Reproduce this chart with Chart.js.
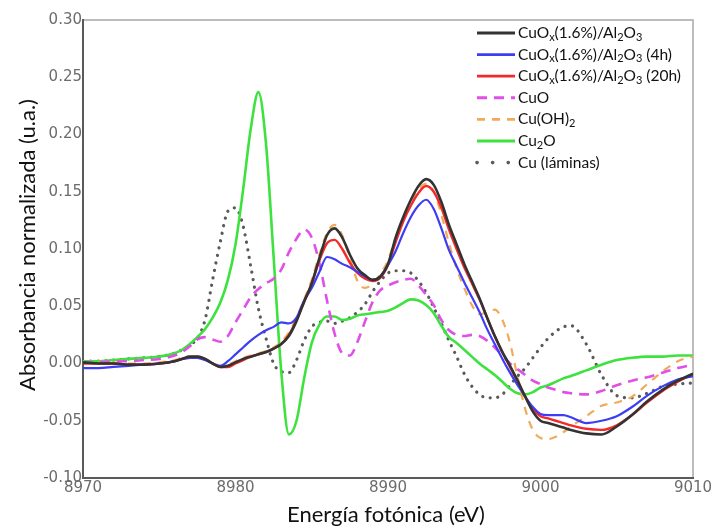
<!DOCTYPE html>
<html>
<head>
<meta charset="utf-8">
<script src="https://cdn.jsdelivr.net/npm/chart.js@4.4.1/dist/chart.umd.min.js"></script>
<style>
  html, body { margin: 0; padding: 0; background: #fff; }
  #wrap { width: 717px; height: 530px; }
</style>
</head>
<body>
<div id="wrap"><canvas id="xanes" width="717" height="530"></canvas></div>
<script>
// photon energy (eV), finer step across the edge region
const energy = [
  8970, 8971, 8972, 8973, 8974, 8975,
  8976, 8976.5, 8977, 8977.5, 8978, 8978.5, 8979, 8979.5, 8980, 8980.5,
  8981, 8981.5, 8982, 8982.5, 8983, 8983.5, 8984, 8984.5, 8985, 8985.5,
  8986, 8986.5, 8987, 8987.5, 8988, 8988.5, 8989, 8989.5, 8990, 8990.5,
  8991, 8991.5, 8992, 8992.5, 8993, 8993.5, 8994, 8994.5, 8995, 8995.5,
  8996, 8996.5, 8997, 8997.5, 8998, 8998.5, 8999, 8999.5, 9000, 9000.5,
  9001, 9001.5, 9002, 9003, 9004, 9005, 9006, 9007, 9008, 9009, 9010
];

const cuoxFresh = [
  0.001, 0.000, 0.000, -0.001, -0.001, 0.000,
  0.002, 0.004, 0.006, 0.006, 0.004, 0.000, -0.003, -0.002, 0.001, 0.004,
  0.006, 0.008, 0.010, 0.013, 0.017, 0.024, 0.037, 0.054, 0.070, 0.092,
  0.112, 0.118, 0.110, 0.095, 0.083, 0.077, 0.073, 0.076, 0.087, 0.110,
  0.128, 0.143, 0.155, 0.161, 0.156, 0.141, 0.121, 0.104, 0.087, 0.072,
  0.057, 0.040, 0.024, 0.010, -0.002, -0.015, -0.029, -0.042, -0.050, -0.052,
  -0.054, -0.056, -0.058, -0.061, -0.062, -0.055, -0.045, -0.033, -0.023, -0.015, -0.009
];

const cuox4h = [
  -0.004, -0.004, -0.003, -0.002, -0.001, 0.000,
  0.002, 0.004, 0.005, 0.005, 0.003, 0.000, -0.002, 0.002, 0.008, 0.014,
  0.020, 0.025, 0.029, 0.032, 0.036, 0.035, 0.040, 0.055, 0.066, 0.080,
  0.093, 0.091, 0.087, 0.084, 0.080, 0.076, 0.073, 0.076, 0.086, 0.098,
  0.114, 0.128, 0.138, 0.143, 0.135, 0.118, 0.099, 0.085, 0.071, 0.058,
  0.045, 0.030, 0.017, 0.004, -0.008, -0.019, -0.029, -0.038, -0.044, -0.045,
  -0.045, -0.045, -0.047, -0.052, -0.050, -0.046, -0.038, -0.028, -0.020, -0.014, -0.011
];

const cuox20h = [
  0.000, 0.000, 0.000, -0.001, -0.001, 0.000,
  0.002, 0.004, 0.005, 0.006, 0.004, 0.000, -0.003, -0.003, 0.000, 0.003,
  0.006, 0.008, 0.010, 0.013, 0.017, 0.025, 0.038, 0.054, 0.070, 0.090,
  0.105, 0.108, 0.100, 0.088, 0.079, 0.074, 0.072, 0.075, 0.086, 0.106,
  0.124, 0.138, 0.149, 0.155, 0.150, 0.136, 0.117, 0.100, 0.084, 0.070,
  0.056, 0.040, 0.024, 0.010, -0.003, -0.016, -0.029, -0.040, -0.046, -0.048,
  -0.050, -0.052, -0.054, -0.057, -0.058, -0.054, -0.045, -0.034, -0.024, -0.016, -0.009
];

const cuoRef = [
  0.001, 0.001, 0.002, 0.002, 0.003, 0.004,
  0.007, 0.010, 0.015, 0.021, 0.023, 0.021, 0.019, 0.024, 0.036, 0.047,
  0.058, 0.065, 0.070, 0.074, 0.082, 0.097, 0.109, 0.117, 0.110, 0.088,
  0.055, 0.026, 0.009, 0.007, 0.019, 0.037, 0.054, 0.064, 0.068, 0.071,
  0.073, 0.074, 0.068, 0.060, 0.051, 0.038, 0.029, 0.025, 0.024, 0.025,
  0.024, 0.020, 0.014, 0.007, 0.000, -0.005, -0.010, -0.015, -0.018, -0.021,
  -0.023, -0.025, -0.026, -0.027, -0.024, -0.019, -0.015, -0.012, -0.008, -0.004, -0.001
];

const cuOH2Ref = [
  0.001, 0.001, 0.001, 0.000, 0.000, 0.001,
  0.003, 0.005, 0.006, 0.006, 0.004, 0.001, -0.002, -0.001, 0.002, 0.005,
  0.007, 0.009, 0.011, 0.014, 0.019, 0.027, 0.040, 0.056, 0.073, 0.095,
  0.114, 0.121, 0.112, 0.092, 0.072, 0.066, 0.070, 0.078, 0.090, 0.110,
  0.127, 0.141, 0.152, 0.157, 0.150, 0.130, 0.105, 0.083, 0.066, 0.051,
  0.043, 0.045, 0.047, 0.038, 0.018, -0.012, -0.040, -0.058, -0.065, -0.066,
  -0.064, -0.060, -0.055, -0.046, -0.037, -0.034, -0.029, -0.018, -0.007, 0.002, 0.006
];

const cu2oRef = [
  0.002, 0.002, 0.003, 0.004, 0.005, 0.006,
  0.009, 0.012, 0.017, 0.023, 0.030, 0.040, 0.053, 0.073, 0.104, 0.152,
  0.205, 0.237, 0.192, 0.093, -0.007, -0.062, -0.050, -0.013, 0.018, 0.034,
  0.041, 0.041, 0.038, 0.039, 0.042, 0.043, 0.044, 0.045, 0.046, 0.049,
  0.053, 0.056, 0.055, 0.051, 0.044, 0.033, 0.023, 0.018, 0.012, 0.006,
  0.000, -0.005, -0.010, -0.016, -0.022, -0.026, -0.027, -0.025, -0.021, -0.019,
  -0.016, -0.013, -0.011, -0.006, -0.001, 0.003, 0.005, 0.006, 0.006, 0.007, 0.007
];

const cuFoil = [
  0.002, 0.002, 0.003, 0.004, 0.005, 0.006,
  0.009, 0.012, 0.016, 0.022, 0.038, 0.073, 0.106, 0.133, 0.136, 0.120,
  0.085, 0.048, 0.022, 0.000, -0.007, -0.008, 0.003, 0.020, 0.032, 0.036,
  0.037, 0.035, 0.037, 0.040, 0.045, 0.052, 0.063, 0.072, 0.079, 0.081,
  0.081, 0.079, 0.072, 0.062, 0.049, 0.035, 0.020, 0.006, -0.009, -0.020,
  -0.027, -0.030, -0.030, -0.027, -0.019, -0.011, -0.004, 0.005, 0.014, 0.022,
  0.028, 0.032, 0.033, 0.017, -0.010, -0.028, -0.030, -0.026, -0.020, -0.018, -0.017
];

const seriesLabels = [
  'CuO_x(1.6%)/Al_2O_3',
  'CuO_x(1.6%)/Al_2O_3 (4h)',
  'CuO_x(1.6%)/Al_2O_3 (20h)',
  'CuO',
  'Cu(OH)_2',
  'Cu_2O',
  'Cu (láminas)'
];

const yTicks = [-0.10, -0.05, 0.00, 0.05, 0.10, 0.15, 0.20, 0.25, 0.30];
const xTicks = [8970, 8980, 8990, 9000, 9010];

const toPoints = vals => energy.map((e, i) => ({ x: e, y: vals[i] }));

function line(label, vals, color, width, dash, legendDash) {
  return {
    label,
    data: toPoints(vals),
    borderColor: color,
    backgroundColor: color,
    borderWidth: width,
    borderDash: dash || [],
    borderCapStyle: dash && dash[0] < 1 ? 'round' : 'butt',
    legendDash: legendDash || dash || [],
    pointRadius: 0,
    fill: false,
    cubicInterpolationMode: 'monotone'
  };
}

const datasets = [
  line(seriesLabels[0], cuoxFresh, '#333333', 2.6),
  line(seriesLabels[1], cuox4h, '#3d3df5', 2.2),
  line(seriesLabels[2], cuox20h, '#f42a2a', 2.4),
  line(seriesLabels[3], cuoRef, '#e050e8', 2.6, [10, 7]),
  line(seriesLabels[4], cuOH2Ref, '#f0aa5a', 2.2, [8, 7]),
  line(seriesLabels[5], cu2oRef, '#3ee23e', 2.6),
  line(seriesLabels[6], cuFoil, '#5a5a5a', 3.2, [0.1, 7.5], [0.1, 15.5])
];

// legend block placed in the upper right corner of the plot
const legendBox = { x0: 477, x1: 515, textX: 518, top: 33, step: 21.6 };

function drawRich(ctx, text, x, y) {
  const parts = text.split(/(_.)/);
  for (const p of parts) {
    if (!p) continue;
    if (p[0] === '_') {
      ctx.font = '11px Lato';
      ctx.fillText(p[1], x, y + 4);
      x += ctx.measureText(p[1]).width;
    } else {
      ctx.font = '15.5px Lato';
      ctx.fillText(p, x, y);
      x += ctx.measureText(p).width;
    }
  }
}

const decorPlugin = {
  id: 'decor',
  beforeDraw(chart) {
    const ctx = chart.ctx;
    const a = chart.chartArea;
    ctx.filter = 'blur(0.6px)';
    ctx.save();
    ctx.strokeStyle = '#a8a8a8';
    ctx.lineWidth = 1.5;
    ctx.beginPath();
    ctx.moveTo(a.left, a.top);
    ctx.lineTo(a.right, a.top);
    ctx.lineTo(a.right, a.bottom);
    ctx.stroke();
    ctx.restore();
  },
  beforeDatasetsDraw(chart) {
    chart.ctx.filter = 'blur(0.45px)';
  },
  afterDatasetsDraw(chart) {
    chart.ctx.filter = 'none';
  },
  afterDraw(chart) {
    const ctx = chart.ctx;
    ctx.save();
    ctx.filter = 'none';
    // axis titles
    ctx.fillStyle = '#111';
    ctx.font = '22px Lato';
    ctx.textAlign = 'center';
    ctx.textBaseline = 'middle';
    ctx.fillText('Energía fotónica (eV)', 386, 515);
    ctx.save();
    ctx.translate(28, 245);
    ctx.rotate(-Math.PI / 2);
    ctx.fillText('Absorbancia normalizada (u.a.)', 0, 0);
    ctx.restore();

    // legend with subscripted formulas
    ctx.textAlign = 'left';
    ctx.textBaseline = 'middle';
    chart.data.datasets.forEach((ds, i) => {
      const y = legendBox.top + i * legendBox.step;
      ctx.save();
      ctx.filter = 'blur(0.4px)';
      ctx.strokeStyle = ds.borderColor;
      ctx.lineWidth = ds.borderWidth + 0.4;
      ctx.lineCap = ds.borderCapStyle;
      ctx.setLineDash(ds.legendDash);
      ctx.beginPath();
      ctx.moveTo(legendBox.x0, y);
      ctx.lineTo(legendBox.x1, y);
      ctx.stroke();
      ctx.restore();
      ctx.fillStyle = '#111';
      drawRich(ctx, ds.label, legendBox.textX, y);
    });
    ctx.restore();
  }
};

new Chart(document.getElementById('xanes'), {
  type: 'line',
  data: { datasets },
  plugins: [decorPlugin],
  options: {
    responsive: false,
    animation: false,
    devicePixelRatio: 1,
    layout: { padding: { top: 20, right: 24, left: 0, bottom: 0 } },
    plugins: { legend: { display: false }, tooltip: { enabled: false } },
    scales: {
      x: {
        type: 'linear',
        min: xTicks[0],
        max: xTicks[xTicks.length - 1],
        afterBuildTicks: s => { s.ticks = xTicks.map(v => ({ value: v })); },
        afterFit: s => { s.height = 52; },
        ticks: {
          padding: 1,
          maxRotation: 0,
          color: '#6c6c6c',
          font: { family: 'DejaVu Sans', size: 15 },
          callback: v => String(v)
        },
        grid: { display: false, drawTicks: false },
        border: { color: '#5a5a5a', width: 2 }
      },
      y: {
        min: yTicks[0],
        max: yTicks[yTicks.length - 1],
        afterBuildTicks: s => { s.ticks = yTicks.map(v => ({ value: v })); },
        afterFit: s => { s.width = 83; },
        ticks: {
          padding: 1,
          color: '#6c6c6c',
          font: { family: 'DejaVu Sans', size: 15 },
          callback: v => v.toFixed(2)
        },
        grid: { display: false, drawTicks: false },
        border: { color: '#5a5a5a', width: 2 }
      }
    }
  }
});
</script>
</body>
</html>
